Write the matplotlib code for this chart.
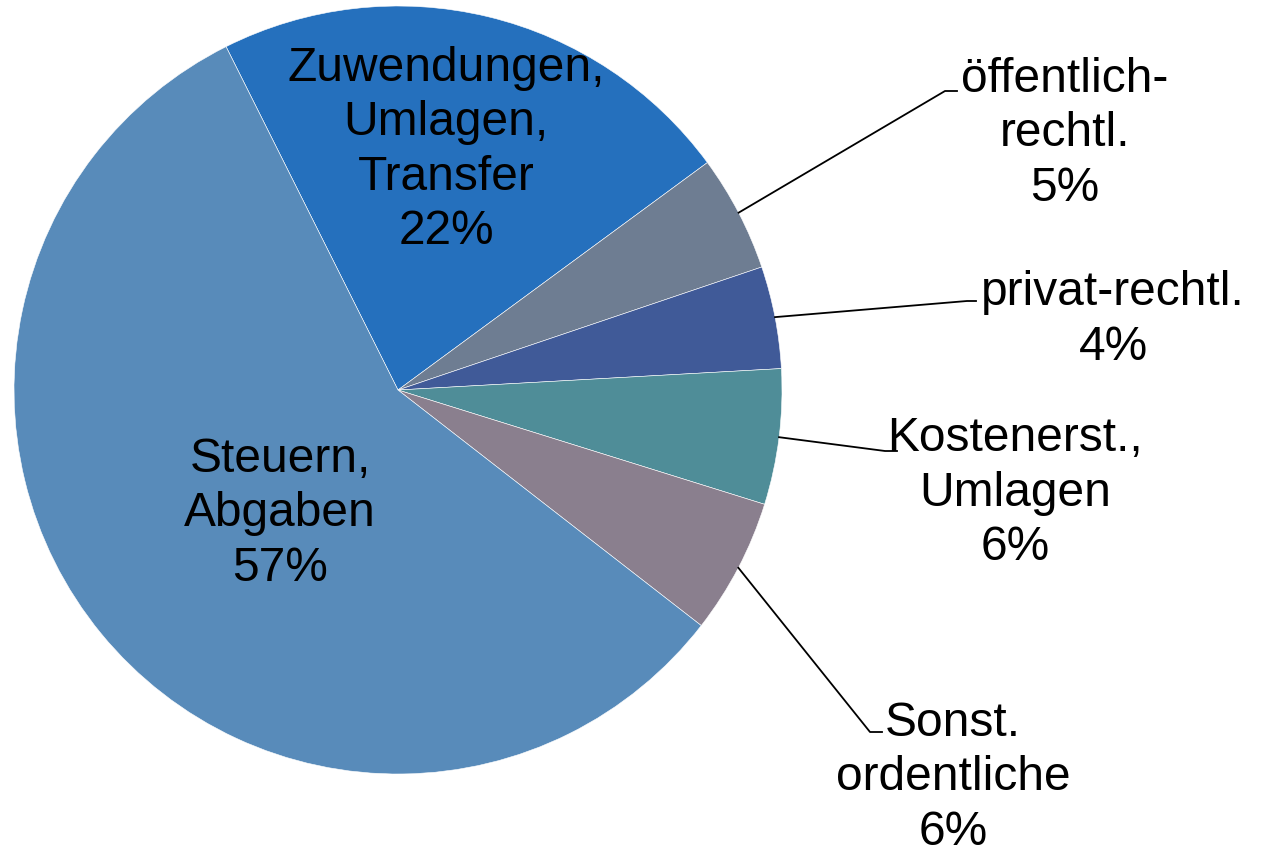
import numpy as np
import matplotlib
matplotlib.use("Agg")
import matplotlib.pyplot as plt

plt.rcParams['font.family'] = ['Liberation Sans', 'DejaVu Sans']

# Daten (Anteile in %), im Uhrzeigersinn ab Zuwendungen
labels = ['Zuwendungen,\nUmlagen,\nTransfer', 'öffentlich-\nrechtl.', 'privat-rechtl.',
          'Kostenerst.,\nUmlagen', 'Sonst.\nordentliche', 'Steuern,\nAbgaben']
values = [22.3, 4.9, 4.3, 5.7, 5.7, 57.1]
shown = ['22%', '5%', '4%', '6%', '6%', '57%']
colors = ['#2570bd', '#6e7d92', '#405a98', '#4f8d98', '#8a7f8e', '#588bba']

W, H = 1262, 853
fig = plt.figure(figsize=(W / 100, H / 100), dpi=100)
ax = fig.add_axes([0, 0, 1, 1])

cx, cy, r = 398, H - 391, 384
wedges, _ = ax.pie(values, colors=colors, center=(cx, cy), radius=r,
                   startangle=116.6, counterclock=False, frame=True,
                   wedgeprops=dict(edgecolor='white', linewidth=0.4))
ax.set_xlim(0, W)
ax.set_ylim(0, H)
ax.set_aspect('equal')
ax.axis('off')

fs = 34.5
# Beschriftung innen
inner = {0: (446, 150), 5: (280, 514)}
# Beschriftung aussen: Textmitte, Knickpunkt, Ende der Linie
outer = {1: ((1065, 134), (945, 92), (957, 92)),
         2: ((1113, 320), (967, 302), (976, 302)),
         3: ((1015, 493), (885, 452), (897, 452)),
         4: ((953, 778), (870, 733), (882, 733))}

for i, w in enumerate(wedges):
    txt = labels[i] + '\n' + shown[i]
    if i in inner:
        x, y = inner[i]
        ax.text(x, H - y, txt, ha='center', va='center', fontsize=fs,
                linespacing=1.26, multialignment='center')
    else:
        (tx, ty), (ex, ey), (hx, hy) = outer[i]
        ang = np.deg2rad((w.theta1 + w.theta2) / 2)
        ax0 = cx + r * np.cos(ang)
        ay0 = cy + r * np.sin(ang)
        ax.plot([ax0, ex, hx], [ay0, H - ey, H - hy], color='black', lw=1.3)
        ax.text(tx, H - ty, txt, ha='center', va='center', fontsize=fs,
                linespacing=1.26, multialignment='center')

fig.savefig('out.png', dpi=100)
